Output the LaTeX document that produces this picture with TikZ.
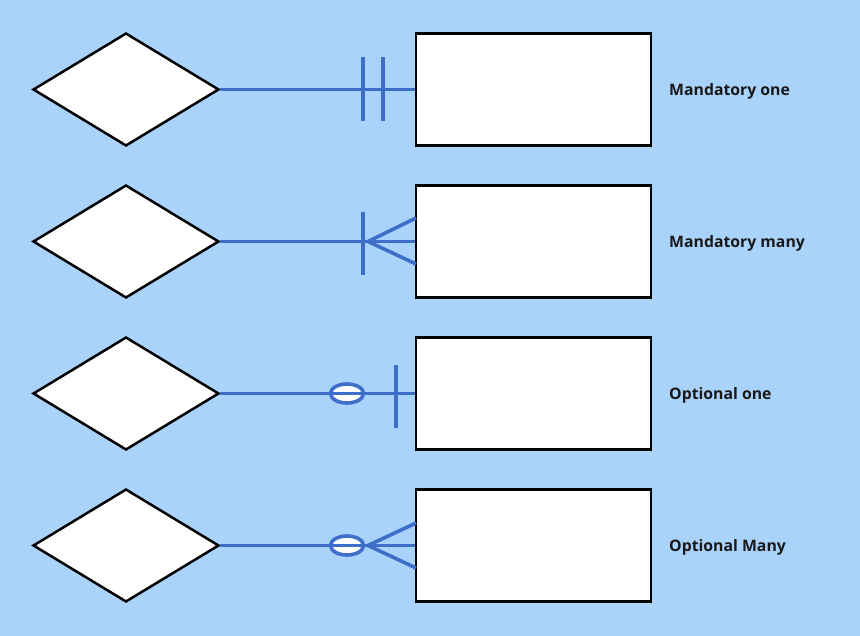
\documentclass[tikz,border=0pt]{standalone}
\usepackage{fontspec}
\setmainfont{Open Sans}
\usetikzlibrary{shapes.geometric}
\definecolor{bg}{HTML}{AAD3FB}
\definecolor{ln}{HTML}{3D6FCA}
\tikzset{
  rel/.style={diamond, draw=black, fill=white, line width=2.5pt, minimum width=186pt, minimum height=113pt, inner sep=0pt, aspect=1.65},
  ent/.style={rectangle, draw=black, fill=white, line width=2.5pt, minimum width=235pt, minimum height=112pt, inner sep=0pt},
  conn/.style={draw=ln, line width=3.6pt},
  lbl/.style={anchor=west, font=\bfseries\fontsize{15.8}{18}\selectfont, text=black!90, inner sep=0pt},
  oval/.style={ellipse, draw=ln, fill=white, line width=3.6pt, minimum width=33pt, minimum height=19pt, inner sep=0pt}
}
\begin{document}
\begin{tikzpicture}[x=1pt,y=-1pt]
\fill[bg] (0,0) rectangle (860,636);
\useasboundingbox (0,0) rectangle (860,636);
% row 1
\node[rel] (r1) at (126,89.5) {};
\node[ent] (e1) at (533.5,89.5) {};
\node[lbl] (l1) at (669,91.5) {Mandatory one};
\draw[conn] (r1.east) -- (e1.west);
\coordinate (b1a) at (363,57); \coordinate (b1b) at (363,121);
\coordinate (b1c) at (383,57); \coordinate (b1d) at (383,121);
\draw[conn] (b1a) -- (b1b);
\draw[conn] (b1c) -- (b1d);
% row 2
\node[rel] (r2) at (126,241.5) {};
\node[ent] (e2) at (533.5,241.5) {};
\node[lbl] (l2) at (669,243.5) {Mandatory many};
\draw[conn] (r2.east) -- (e2.west);
\coordinate (b2a) at (363,212); \coordinate (b2b) at (363,275);
\draw[conn] (b2a) -- (b2b);
\coordinate (c2) at (368,241.5);
\coordinate (c2u) at (416,218); \coordinate (c2d) at (416,264);
\draw[conn] (c2u) -- (c2) -- (c2d);
% row 3
\node[rel] (r3) at (126,393.5) {};
\node[ent] (e3) at (533.5,393.5) {};
\node[lbl] (l3) at (669,395.5) {Optional one};
\draw[conn] (r3.east) -- (e3.west);
\node[oval] (o3) at (347,393.5) {};
\draw[conn] (o3.west) -- (o3.east);
\coordinate (b3a) at (396,365); \coordinate (b3b) at (396,428);
\draw[conn] (b3a) -- (b3b);
% row 4
\node[rel] (r4) at (126,545.5) {};
\node[ent] (e4) at (533.5,545.5) {};
\node[lbl] (l4) at (669,547.5) {Optional Many};
\draw[conn] (r4.east) -- (e4.west);
\node[oval] (o4) at (347,545.5) {};
\draw[conn] (o4.west) -- (o4.east);
\coordinate (c4) at (368,545.5);
\coordinate (c4u) at (416,523); \coordinate (c4d) at (416,568);
\draw[conn] (c4u) -- (c4) -- (c4d);
\end{tikzpicture}
\end{document}
